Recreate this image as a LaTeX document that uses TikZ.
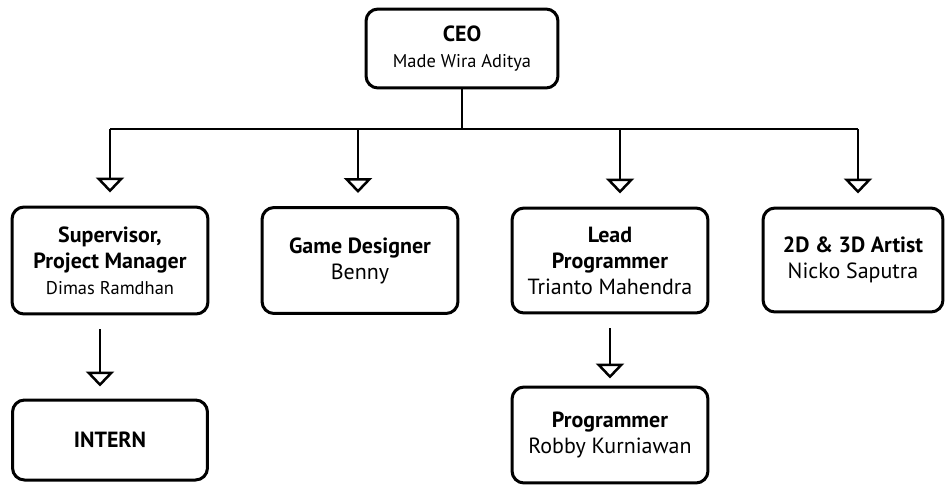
\documentclass[tikz,border=0pt]{standalone}
\usepackage{fontspec}
\setmainfont{PT Sans}
\usetikzlibrary{arrows.meta}

\newcommand{\ttl}[1]{{\bfseries #1}}

\begin{document}
\begin{tikzpicture}[x=0.02cm, y=-0.02cm,
	box/.style={draw, line width=0.6mm, rounded corners=2.4mm, align=center, inner sep=0pt, font=\fontsize{12.5}{14.8}\selectfont},
	link/.style={line width=0.5mm, -{Triangle[open, width=5.6mm, length=3mm, line width=0.5mm]}, shorten >=2.6mm}]
			%%%%% START %%%%%
			
			\useasboundingbox (0, 0) rectangle (948, 488);
			
			\node[box, minimum width=3.84cm, minimum height=1.58cm] (ceo) at (462, 48.5) {\ttl{CEO}\\{\fontsize{10.5}{13}\selectfont Made Wira Aditya}};
			
			\node[box, minimum width=3.92cm, minimum height=2.14cm] (sup) at (110, 260.5) {\ttl{Supervisor,}\\\ttl{Project Manager}\\{\fontsize{10.5}{13}\selectfont Dimas Ramdhan}};
			\node[box, minimum width=3.92cm, minimum height=2.12cm] (game) at (360, 260.5) {\ttl{Game Designer}\\Benny};
			\node[box, minimum width=3.92cm, minimum height=2.1cm] (lead) at (610, 260.5) {\ttl{Lead}\\\ttl{Programmer}\\Trianto Mahendra};
			\node[box, minimum width=3.6cm, minimum height=2.08cm] (art) at (853, 260) {\ttl{2D \& 3D Artist}\\Nicko Saputra};
			
			\node[box, minimum width=3.9cm, minimum height=1.6cm] (intern) at (110, 440) {\ttl{INTERN}};
			\node[box, minimum width=3.92cm, minimum height=1.92cm] (prog) at (610, 435) {\ttl{Programmer}\\Robby Kurniawan};
			
			% bus
			\coordinate (bus) at (462, 129);
			\coordinate (b1) at (110, 129);
			\coordinate (b2) at (358, 129);
			\coordinate (b3) at (620, 129);
			\coordinate (b4) at (858, 129);
			
			\draw[line width=0.5mm] (ceo.south) -- (bus);
			\draw[line width=0.5mm] (b1) -- (b4);
			
			\draw[link] (b1) -- (b1 |- sup.north);
			\draw[link] (b2) -- (b2 |- game.north);
			\draw[link] (b3) -- (b3 |- lead.north);
			\draw[link] (b4) -- (b4 |- art.north);
			
			\draw[link, shorten <=2.8mm, shorten >=2.4mm] ([xshift=-0.2cm]sup.south) -- ([xshift=-0.2cm]intern.north);
			\draw[link, shorten <=2.8mm, shorten >=1.4mm] (lead.south) -- (prog.north);
			
			%%%%% END %%%%%
		\end{tikzpicture}
\end{document}
